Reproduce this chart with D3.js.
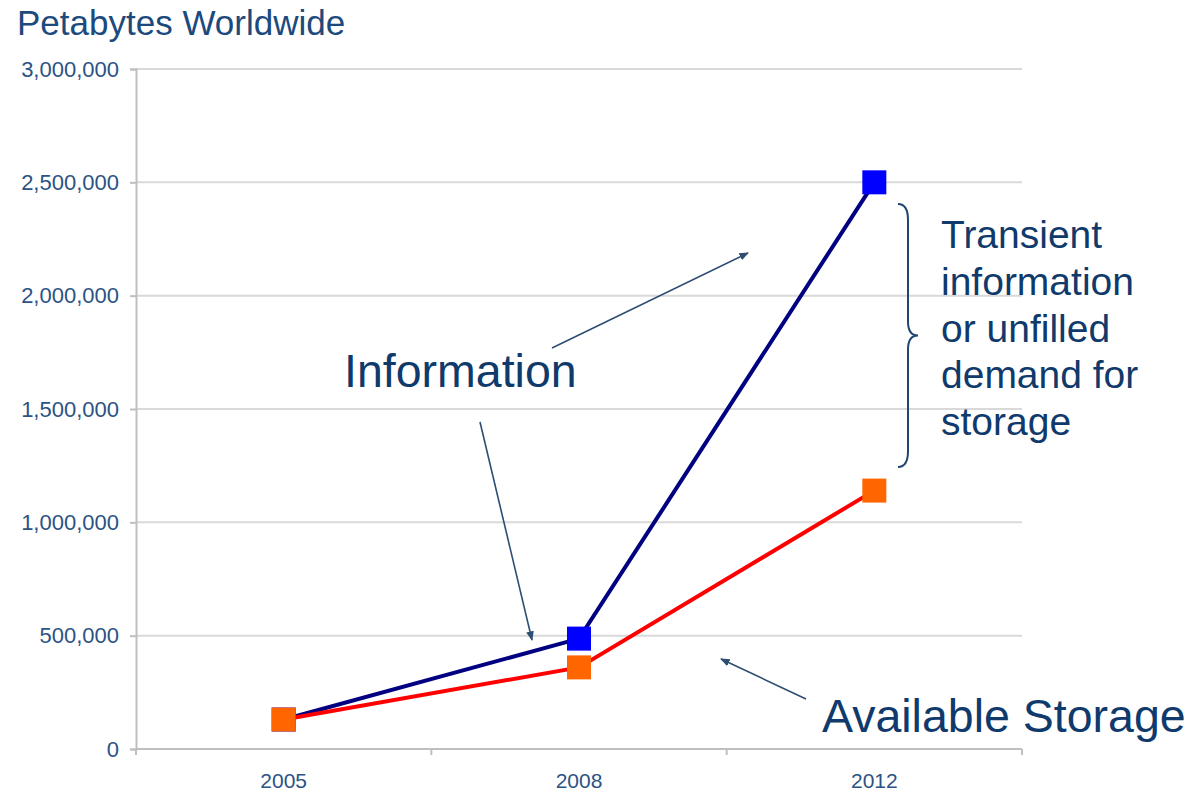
<!DOCTYPE html>
<html>
<head>
<meta charset="utf-8">
<script src="https://cdn.jsdelivr.net/npm/d3@7"></script>
<style>
  body { margin: 0; background: #fff; }
  svg { display: block; font-family: "Liberation Sans", Arial, sans-serif; }
</style>
</head>
<body>
<div id="chart"></div>
<script>
// chart data
var years = ["2005", "2008", "2012"];
var information = [130000, 487000, 2500000];
var storage = [130000, 360000, 1140000];
var yTicks = [0, 500000, 1000000, 1500000, 2000000, 2500000, 3000000];
var transientLines = ["Transient", "information", "or unfilled", "demand for", "storage"];

var width = 1192, height = 792;
var margin = { top: 69, right: 170, bottom: 43, left: 136 };

var svg = d3.select("#chart").append("svg")
  .attr("width", width)
  .attr("height", height);

var x = d3.scaleBand().domain(years).range([margin.left, width - margin.right]).padding(0);
var y = d3.scaleLinear().domain([0, 3000000]).range([height - margin.bottom, margin.top]);

var textColor = "#0f3a6b";
var tickColor = "#2b5384";

// title
svg.append("text")
  .attr("x", 17)
  .attr("y", 35)
  .style("font-size", "35px")
  .style("fill", "#1c4a7d")
  .text("Petabytes Worldwide");

// gridlines
svg.append("g")
  .selectAll("line")
  .data(yTicks.filter(function (d) { return d > 0; }))
  .enter().append("line")
  .attr("x1", margin.left)
  .attr("x2", width - margin.right)
  .attr("y1", function (d) { return y(d); })
  .attr("y2", function (d) { return y(d); })
  .style("stroke", "#d9d9d9")
  .style("stroke-width", 2);

// y axis
var yAxis = svg.append("g")
  .attr("transform", "translate(" + margin.left + ",0)")
  .call(d3.axisLeft(y).tickValues(yTicks).tickFormat(d3.format(",")).tickSize(6).tickPadding(11));
yAxis.select(".domain").style("stroke", "#bfbfbf").style("stroke-width", 2);
yAxis.selectAll(".tick line").style("stroke", "#bfbfbf").style("stroke-width", 2);
yAxis.selectAll("text")
  .style("font-size", "22px")
  .style("font-family", "Liberation Sans, Arial, sans-serif")
  .style("fill", tickColor);

// x axis (category boundaries as ticks)
var xAxisG = svg.append("g")
  .attr("transform", "translate(0," + y(0) + ")");
xAxisG.append("line")
  .attr("x1", margin.left)
  .attr("x2", width - margin.right)
  .style("stroke", "#bfbfbf")
  .style("stroke-width", 2);
var bounds = years.map(function (d) { return x(d); }).concat([x(years[years.length - 1]) + x.bandwidth()]);
xAxisG.selectAll(".xt")
  .data(bounds)
  .enter().append("line")
  .attr("class", "xt")
  .attr("x1", function (d) { return d; })
  .attr("x2", function (d) { return d; })
  .attr("y1", 0)
  .attr("y2", 6)
  .style("stroke", "#bfbfbf")
  .style("stroke-width", 2);
xAxisG.selectAll(".xl")
  .data(years)
  .enter().append("text")
  .attr("class", "xl")
  .attr("x", function (d) { return x(d) + x.bandwidth() / 2; })
  .attr("y", 39)
  .attr("text-anchor", "middle")
  .style("font-size", "21px")
  .style("fill", tickColor)
  .text(function (d) { return d; });

// lines
var line = d3.line()
  .x(function (d, i) { return x(years[i]) + x.bandwidth() / 2; })
  .y(function (d) { return y(d); });

svg.append("path")
  .datum(information)
  .attr("d", line)
  .style("fill", "none")
  .style("stroke", "#000080")
  .style("stroke-width", 4);

svg.append("path")
  .datum(storage)
  .attr("d", line)
  .style("fill", "none")
  .style("stroke", "#ff0000")
  .style("stroke-width", 4);

// markers
var ms = 24;
function drawMarkers(data, color) {
  svg.append("g")
    .selectAll("rect")
    .data(data)
    .enter().append("rect")
    .attr("x", function (d, i) { return x(years[i]) + x.bandwidth() / 2 - ms / 2; })
    .attr("y", function (d) { return y(d) - ms / 2; })
    .attr("width", ms)
    .attr("height", ms)
    .style("fill", color);
}
drawMarkers(information, "#0000ff");
drawMarkers(storage, "#ff6600");

// arrow heads
svg.append("defs").append("marker")
  .attr("id", "arrow")
  .attr("viewBox", "0 0 10 10")
  .attr("refX", 9)
  .attr("refY", 5)
  .attr("markerWidth", 6)
  .attr("markerHeight", 6)
  .attr("orient", "auto")
  .append("path")
  .attr("d", "M0,1 L10,5 L0,9 z")
  .style("fill", "#2d4d72");

var arrows = [
  [552, 348, 748, 253],
  [480, 422, 532, 640],
  [806, 699, 721, 659]
];
svg.append("g")
  .selectAll("line")
  .data(arrows)
  .enter().append("line")
  .attr("x1", function (d) { return d[0]; })
  .attr("y1", function (d) { return d[1]; })
  .attr("x2", function (d) { return d[2]; })
  .attr("y2", function (d) { return d[3]; })
  .style("stroke", "#2d4d72")
  .style("stroke-width", 1.6)
  .attr("marker-end", "url(#arrow)");

// annotations
svg.append("text")
  .attr("x", 344)
  .attr("y", 387)
  .style("font-size", "46.5px")
  .style("fill", textColor)
  .text("Information");

svg.append("text")
  .attr("x", 822)
  .attr("y", 732)
  .style("font-size", "46.5px")
  .style("fill", textColor)
  .text("Available Storage");

// curly brace spanning the gap at 2012
var bx = 898, bTop = 204, bBot = 467, bMid = (bTop + bBot) / 2;
svg.append("path")
  .attr("d",
    "M" + bx + "," + bTop +
    " Q" + (bx + 10) + "," + bTop + " " + (bx + 10) + "," + (bTop + 16) +
    " L" + (bx + 10) + "," + (bMid - 14) +
    " Q" + (bx + 10) + "," + bMid + " " + (bx + 20) + "," + bMid +
    " Q" + (bx + 10) + "," + bMid + " " + (bx + 10) + "," + (bMid + 14) +
    " L" + (bx + 10) + "," + (bBot - 16) +
    " Q" + (bx + 10) + "," + bBot + " " + bx + "," + bBot)
  .style("fill", "none")
  .style("stroke", "#1f4570")
  .style("stroke-width", 2);

svg.append("g")
  .selectAll("text")
  .data(transientLines)
  .enter().append("text")
  .attr("x", 941)
  .attr("y", function (d, i) { return 248 + i * 46.8; })
  .style("font-size", "39px")
  .style("fill", textColor)
  .text(function (d) { return d; });
</script>
</body>
</html>
